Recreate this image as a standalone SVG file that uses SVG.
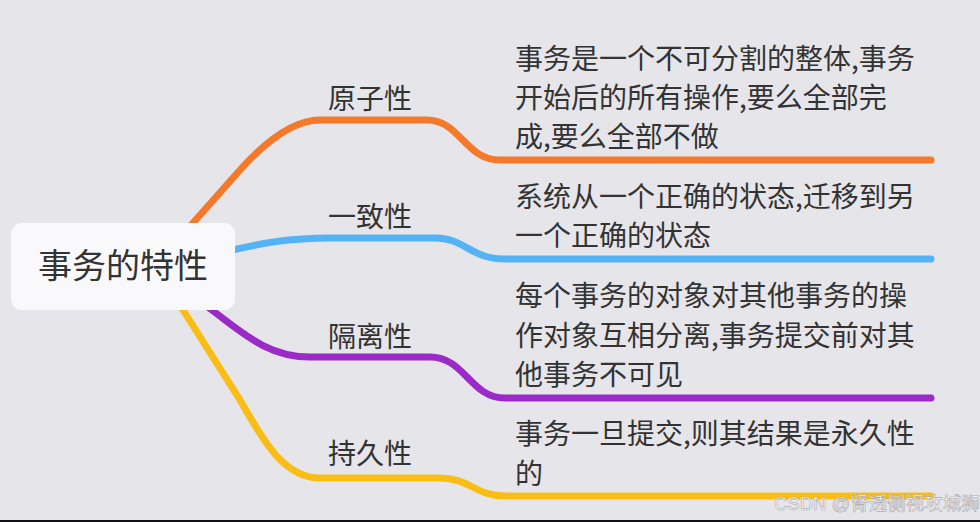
<svg xmlns="http://www.w3.org/2000/svg" width="980" height="522" viewBox="0 0 980 522">
<style>
.t{font-family:"Noto Sans CJK SC","Noto Sans",sans-serif;fill:#333;}
.d{font-size:28px;}
.lbl{font-size:28px;text-anchor:middle;}
.root{font-size:34px;text-anchor:middle;}
.c{fill:none;stroke-width:7;stroke-linecap:round;stroke-linejoin:round;}
</style>
<rect x="0" y="0" width="980" height="522" fill="#e6e5ea"/>
<g id="connectors">
<path class="c" stroke="#f5792a" d="M 185 232 L 240 170 Q 285 120 320 120 L 427 120 C 460 120 465 160 500 160 L 931 160"/>
<path class="c" stroke="#53b3f5" d="M 225 252 C 260 243 290 238 330 238 L 435 238 C 465 238 470 259 505 259 L 931 259"/>
<path class="c" stroke="#9a2bc9" d="M 205 305 C 240 330 265 357 310 357 L 430 357 C 465 357 470 398 505 398 L 931 398"/>
<path class="c" stroke="#fabd16" d="M 178 302 L 240 400 C 258 430 280 478 320 478 L 440 478 C 470 478 475 496 505 496 L 931 496"/>
</g>
<g id="root">
<rect x="11" y="223" width="224" height="87" rx="11" fill="#f9f9fb"/>
<text class="t root" x="123" y="278">事务的特性</text>
</g>
<g id="atomicity">
<text class="t lbl" x="370" y="109">原子性</text>
<text class="t d" x="515" y="69">事务是一个不可分割的整体,事务</text>
<text class="t d" x="515" y="108">开始后的所有操作,要么全部完</text>
<text class="t d" x="515" y="147">成,要么全部不做</text>
</g>
<g id="consistency">
<text class="t lbl" x="370" y="227">一致性</text>
<text class="t d" x="515" y="207">系统从一个正确的状态,迁移到另</text>
<text class="t d" x="515" y="246">一个正确的状态</text>
</g>
<g id="isolation">
<text class="t lbl" x="370" y="347">隔离性</text>
<text class="t d" x="515" y="306">每个事务的对象对其他事务的操</text>
<text class="t d" x="515" y="346">作对象互相分离,事务提交前对其</text>
<text class="t d" x="515" y="385">他事务不可见</text>
</g>
<g id="durability">
<text class="t lbl" x="370" y="464">持久性</text>
<text class="t d" x="515" y="444">事务一旦提交,则其结果是永久性</text>
<text class="t d" x="515" y="484">的</text>
</g>
<text x="774" y="510" font-family="'Liberation Sans','Noto Sans CJK SC',sans-serif" font-size="18.5" fill="#ffffff" stroke="#a8a8ae" stroke-width="0.6">CSDN @肾透侧视攻城狮</text>
<rect x="0" y="520" width="980" height="2" fill="#111"/>
</svg>
